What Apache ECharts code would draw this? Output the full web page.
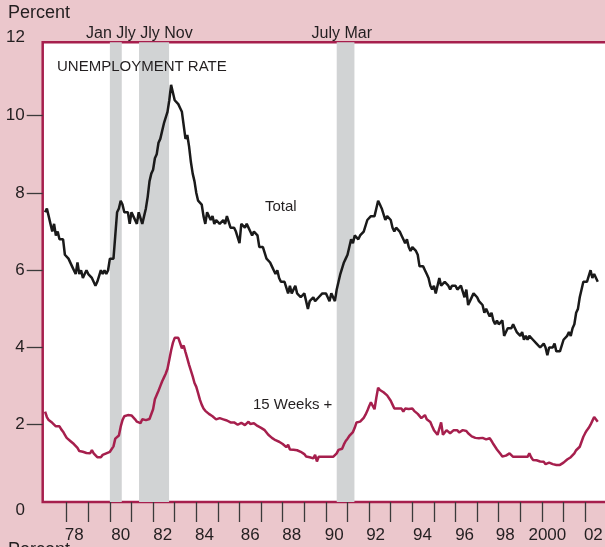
<!DOCTYPE html>
<html>
  <head>
    <meta charset="utf-8" />
    <title>Unemployment rate</title>
    <script src="https://cdn.jsdelivr.net/npm/echarts@6.0.0/dist/echarts.min.js"></script>
    <style>
      html, body { margin: 0; padding: 0; background: #ebc7cc; }
    </style>
  </head>

  <body>
    <div id="main" style="width: 605px; height: 547px"></div>

    <script>
      // monthly data, first value = Jan 1977
      var startYear = 1977;

      // total unemployment rate, percent
      var totalRate = [
        7.5, 7.6, 7.4, 7.2, 7.0, 7.2, 6.9, 7.0, 6.8, 6.8, 6.8, 6.4,
        6.4, 6.3, 6.3, 6.1, 6.0, 5.9, 6.2, 5.9, 6.0, 5.8, 5.9, 6.0,
        5.9, 5.9, 5.8, 5.8, 5.6, 5.7, 5.7, 6.0, 5.9, 6.0, 5.9, 6.0,
        6.3, 6.3, 6.3, 6.9, 7.5, 7.6, 7.8, 7.7, 7.5, 7.5, 7.5, 7.2,
        7.5, 7.4, 7.4, 7.2, 7.5, 7.5, 7.2, 7.4, 7.6, 7.9, 8.3, 8.5,
        8.6, 8.9, 9.0, 9.3, 9.4, 9.6, 9.8, 9.8, 10.1, 10.4, 10.8, 10.8,
        10.4, 10.4, 10.3, 10.2, 10.1, 10.1, 9.4, 9.5, 9.2, 8.8, 8.5, 8.3,
        8.0, 7.8, 7.8, 7.7, 7.4, 7.2, 7.5, 7.5, 7.3, 7.4, 7.2, 7.3,
        7.3, 7.2, 7.2, 7.3, 7.2, 7.4, 7.4, 7.1, 7.1, 7.1, 7.0, 7.0,
        6.7, 7.2, 7.2, 7.1, 7.2, 7.2, 7.0, 6.9, 7.0, 7.0, 6.9, 6.6,
        6.6, 6.6, 6.6, 6.3, 6.3, 6.2, 6.1, 6.0, 5.9, 6.0, 5.8, 5.7,
        5.7, 5.7, 5.7, 5.4, 5.6, 5.4, 5.4, 5.6, 5.4, 5.4, 5.3, 5.3,
        5.4, 5.2, 5.0, 5.2, 5.2, 5.3, 5.2, 5.2, 5.3, 5.3, 5.4, 5.4,
        5.4, 5.3, 5.2, 5.4, 5.4, 5.2, 5.5, 5.7, 5.9, 5.9, 6.2, 6.3,
        6.4, 6.6, 6.8, 6.7, 6.9, 6.9, 6.8, 6.9, 6.9, 7.0, 7.0, 7.3,
        7.3, 7.4, 7.4, 7.4, 7.6, 7.8, 7.7, 7.6, 7.6, 7.3, 7.4, 7.4,
        7.3, 7.1, 7.0, 7.1, 7.1, 7.0, 6.9, 6.8, 6.7, 6.8, 6.6, 6.5,
        6.6, 6.6, 6.5, 6.4, 6.1, 6.1, 6.1, 6.0, 5.9, 5.8, 5.6, 5.5,
        5.6, 5.4, 5.4, 5.8, 5.6, 5.6, 5.7, 5.7, 5.6, 5.5, 5.6, 5.6,
        5.6, 5.5, 5.5, 5.6, 5.6, 5.3, 5.5, 5.1, 5.2, 5.2, 5.4, 5.4,
        5.3, 5.2, 5.2, 5.1, 4.9, 5.0, 4.9, 4.8, 4.9, 4.7, 4.6, 4.7,
        4.6, 4.6, 4.7, 4.3, 4.4, 4.5, 4.5, 4.5, 4.6, 4.5, 4.4, 4.4,
        4.3, 4.4, 4.2, 4.3, 4.2, 4.3, 4.3, 4.2, 4.2, 4.1, 4.1, 4.0,
        4.0, 4.1, 4.0, 3.8, 4.0, 4.0, 4.0, 4.1, 3.9, 3.9, 3.9, 3.9,
        4.2, 4.2, 4.3, 4.4, 4.3, 4.5, 4.6, 4.9, 5.0, 5.3, 5.5, 5.7,
        5.7, 5.7, 5.7, 6.0, 5.8, 5.9, 5.9, 5.7
      ];

      // unemployed 15 weeks and over, percent of labor force
      var longTermRate = [
        2.34, 2.2, 2.12, 2.08, 2.05, 2.0, 1.96, 1.92, 1.96, 1.88, 1.82, 1.74,
        1.66, 1.62, 1.58, 1.55, 1.5, 1.46, 1.4, 1.32, 1.36, 1.3, 1.27, 1.27,
        1.27, 1.26, 1.34, 1.26, 1.22, 1.16, 1.15, 1.16, 1.22, 1.24, 1.26, 1.28,
        1.3, 1.34, 1.44, 1.64, 1.66, 1.72, 1.95, 2.12, 2.22, 2.25, 2.25, 2.25,
        2.24, 2.22, 2.14, 2.08, 2.1, 2.04, 2.14, 2.12, 2.12, 2.14, 2.15, 2.2,
        2.4, 2.66, 2.77, 2.88, 3.0, 3.12, 3.22, 3.32, 3.45, 3.68, 3.92, 4.12,
        4.25, 4.26, 4.25, 4.2, 3.98, 4.05, 3.88, 3.72, 3.55, 3.4, 3.25, 3.08,
        2.98, 2.82, 2.65, 2.52, 2.42, 2.36, 2.33, 2.28, 2.26, 2.22, 2.2, 2.14,
        2.14, 2.17, 2.13, 2.14, 2.12, 2.11, 2.12, 2.06, 2.1, 2.06, 2.02, 2.0,
        1.95, 2.05, 2.08, 1.99, 2.02, 2.08, 2.02, 2.06, 2.04, 2.0, 1.97, 1.94,
        1.92, 1.9, 1.86, 1.8, 1.74, 1.7, 1.66, 1.63, 1.6, 1.58, 1.56, 1.52,
        1.5, 1.46, 1.42, 1.48, 1.36, 1.36, 1.35, 1.35, 1.34, 1.33, 1.3, 1.27,
        1.24, 1.18, 1.16, 1.16, 1.14, 1.13, 1.22, 1.05, 1.17, 1.17, 1.17, 1.17,
        1.17, 1.17, 1.17, 1.17, 1.17, 1.18, 1.26, 1.35, 1.35, 1.38, 1.49, 1.58,
        1.64, 1.71, 1.76, 1.81, 1.92, 2.06, 2.08, 2.08, 2.12, 2.18, 2.26, 2.36,
        2.48, 2.58, 2.62, 2.4, 2.7, 2.96, 2.9, 2.86, 2.84, 2.8, 2.76, 2.8,
        2.62, 2.52, 2.42, 2.38, 2.42, 2.42, 2.42, 2.34, 2.42, 2.41, 2.41, 2.42,
        2.42, 2.36, 2.31, 2.28, 2.25, 2.17, 2.2, 2.25, 2.14, 2.1, 2.07, 1.96,
        1.86, 1.8, 1.74, 1.76, 2.06, 1.74, 1.8, 1.86, 1.84, 1.78, 1.82, 1.86,
        1.86, 1.86, 1.8, 1.82, 1.86, 1.86, 1.84, 1.78, 1.73, 1.7, 1.66, 1.66,
        1.66, 1.65, 1.65, 1.66, 1.64, 1.62, 1.6, 1.65, 1.58, 1.5, 1.43, 1.36,
        1.3, 1.24, 1.18, 1.17, 1.2, 1.24, 1.26, 1.22, 1.17, 1.17, 1.17, 1.17,
        1.17, 1.17, 1.17, 1.17, 1.17, 1.26, 1.16, 1.09, 1.1, 1.08, 1.06, 1.05,
        1.05, 1.04, 0.98, 0.96, 1.02, 1.04, 0.98, 0.96, 0.96, 0.97, 0.96, 0.97,
        1.02, 1.06, 1.1, 1.12, 1.16, 1.18, 1.26, 1.34, 1.38, 1.43, 1.56, 1.69,
        1.78, 1.86, 1.92, 2.0, 2.1, 2.2, 2.25, 2.08
      ];

      // recessions (start, end) as decimal years
      var recessions = [
        [1980.0, 1980.55],
        [1981.35, 1982.74],
        [1990.5, 1991.32]
      ];

      var yearTicks = [];
      for (var y = 1978; y <= 2002; y++) yearTicks.push(y);
      // label positions sit inside the year
      var yearLabels = [1978.35, 1980.5, 1982.45, 1984.38, 1986.5, 1988.42, 1990.38,
        1992.3, 1994.47, 1996.42, 1998.3, 2000.25, 2002.38];
      var pctTicks = [2, 4, 6, 8, 10];

      function toPoints(arr) {
        return arr.map(function (v, i) {
          return [startYear + i / 12, v];
        });
      }

      var textColor = "#231f20";
      var crimson = "#a61f4d";
      var font = "Liberation Sans, Arial, Helvetica, sans-serif";

      var option = {
        animation: false,
        backgroundColor: "#ebc7cc",
        grid: {
          left: 42.7,
          top: 42.3,
          width: 566,
          height: 459.7,
          outerBoundsMode: "none",
          containLabel: false,
          show: true,
          backgroundColor: "#ffffff",
          borderColor: crimson,
          borderWidth: 2.5
        },
        xAxis: {
          type: "value",
          min: 1976.89,
          max: 2003.09,
          splitLine: { show: false },
          axisLine: { show: false },
          axisTick: {
            show: true,
            inside: false,
            length: 20,
            customValues: yearTicks,
            lineStyle: { color: "#3a3a3a", width: 1.3 }
          },
          axisLabel: {
            customValues: yearLabels,
            margin: 25,
            color: textColor,
            fontSize: 17,
            fontFamily: font,
            formatter: function (v) {
              var yr = Math.floor(v);
              if (yr === 2000) return "2000";
              return String(yr % 100).padStart(2, "0");
            }
          }
        },
        yAxis: {
          type: "value",
          min: 0,
          max: 11.9,
          splitLine: { show: false },
          axisLine: { show: false },
          axisTick: {
            show: true,
            length: 16,
            customValues: pctTicks,
            lineStyle: { color: "#3a3a3a", width: 1.3 }
          },
          axisLabel: {
            customValues: pctTicks,
            margin: 18,
            color: textColor,
            fontSize: 17,
            fontFamily: font
          }
        },
        graphic: [
          { type: "text", x: 8, y: 13, style: { text: "Percent", fill: textColor, font: "18px " + font, textVerticalAlign: "middle", verticalAlign: "middle" } },
          { type: "text", x: 25, y: 37, style: { text: "12", fill: textColor, font: "17px " + font, textAlign: "right", align: "right", textVerticalAlign: "middle", verticalAlign: "middle" } },
          { type: "text", x: 25, y: 510, style: { text: "0", fill: textColor, font: "17px " + font, textAlign: "right", align: "right", textVerticalAlign: "middle", verticalAlign: "middle" } },
          { type: "text", x: 86, y: 34, style: { text: "Jan Jly Jly Nov", fill: textColor, font: "16px " + font, textVerticalAlign: "middle", verticalAlign: "middle" } },
          { type: "text", x: 311.5, y: 34, style: { text: "July Mar", fill: textColor, font: "16px " + font, textVerticalAlign: "middle", verticalAlign: "middle" } },
          { type: "text", x: 57, y: 67, z: 10, style: { text: "UNEMPLOYMENT RATE", fill: textColor, font: "15px " + font, textVerticalAlign: "middle", verticalAlign: "middle" } },
          { type: "text", x: 265, y: 207, z: 10, style: { text: "Total", fill: textColor, font: "15px " + font, textVerticalAlign: "middle", verticalAlign: "middle" } },
          { type: "text", x: 253, y: 405, z: 10, style: { text: "15 Weeks +", fill: textColor, font: "15px " + font, textVerticalAlign: "middle", verticalAlign: "middle" } },
          { type: "text", x: 8, y: 541, style: { text: "Percent", fill: textColor, font: "18px " + font, textVerticalAlign: "top", verticalAlign: "top" } }
        ],
        series: [
          {
            name: "Total",
            type: "line",
            data: toPoints(totalRate),
            showSymbol: false,
            lineStyle: { color: "#1a1a1a", width: 2.5 },
            itemStyle: { color: "#1a1a1a" },
            z: 3,
            markArea: {
              silent: true,
              itemStyle: { color: "#d1d3d4" },
              data: recessions.map(function (r) {
                return [{ xAxis: r[0] }, { xAxis: r[1] }];
              })
            }
          },
          {
            name: "15 Weeks +",
            type: "line",
            data: toPoints(longTermRate),
            showSymbol: false,
            lineStyle: { color: crimson, width: 2.5 },
            itemStyle: { color: crimson },
            z: 3
          }
        ]
      };

      var myChart = echarts.init(document.getElementById("main"));
      myChart.setOption(option);
    </script>
  </body>
</html>
